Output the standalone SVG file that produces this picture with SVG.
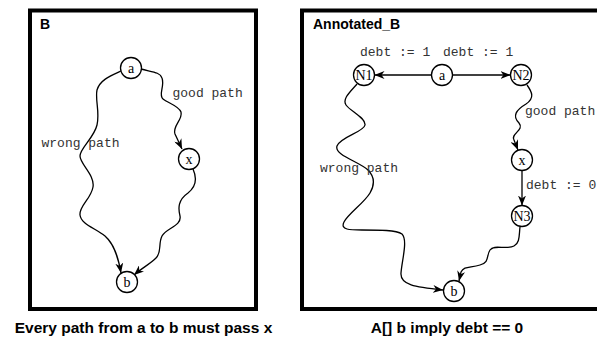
<svg xmlns="http://www.w3.org/2000/svg" width="597" height="340" viewBox="0 0 597 340">
<style>
.frame{fill:none;stroke:#000;stroke-width:4}
.node circle{fill:#fff;stroke:#000;stroke-width:1.3}
.node text{font-family:"Liberation Serif","Times New Roman",serif;font-size:14px;text-anchor:middle;fill:#000}
.edge{fill:none;stroke:#000;stroke-width:1.3;marker-end:url(#arr)}
.lbl{font-family:"Liberation Mono","Courier New",monospace;font-size:13px;fill:#333}
.ttl{font-family:"Liberation Sans",Arial,sans-serif;font-weight:bold;font-size:14px;fill:#000}
.cap{font-family:"Liberation Sans",Arial,sans-serif;font-weight:bold;font-size:15.5px;fill:#000;text-anchor:middle}
</style>
<defs>
<marker id="arr" viewBox="0 0 10 8" refX="10" refY="4" markerWidth="10" markerHeight="8" markerUnits="userSpaceOnUse" orient="auto">
<path d="M0,0 L10,4 L0,8 L3,4 Z" fill="#000"/>
</marker>
</defs>
<g id="panel-B">
<rect class="frame" x="30" y="10.5" width="226" height="298.5"/>
<text class="ttl" x="40" y="29">B</text>
</g>
<g id="panel-Annotated_B">
<rect class="frame" x="302" y="10.5" width="300" height="298.5"/>
<text class="ttl" x="313" y="29">Annotated_B</text>
</g>
<g id="connectors">
<path class="edge" d="M141,69 C152,72 160,72 162,78 C165,86 158,95 163,99 C168,103 179,106 181,112 C183,120 172,126 175,134 L182,149"/>
<path class="edge" d="M121,71 C110,76 100,80 97,90 C95,100 100,112 97,125 C94,138 80,148 80,156 C80,164 95,175 93,187 C91,199 79,206 80,215 C81,224 95,228 105,236 C114,244 118,256 121,273"/>
<path class="edge" d="M193,169 C197,178 197,186 188,193 C178,200 178,208 180,216 C182,226 166,228 162,236 C158,244 162,252 156,258 C150,264 142,268 134,275"/>
<path class="edge" d="M431.5,75 L374.5,75"/>
<path class="edge" d="M452.5,75 L510.5,75"/>
<path class="edge" d="M527,85 C532,92 535,98 526,104 C516,110 512,116 519,123 C525,130 510,134 514,140 L518,150"/>
<path class="edge" d="M522,170.5 L522,205.5"/>
<path class="edge" d="M520,227 C519,235 520,243 514,246 C506,250 494,244 490,250 C486,256 490,262 480,265 C470,268 464,266 461,272 L459,281"/>
<path class="edge" d="M357,84 C350,92 342,99 346,105 C350,111 366,118 365,125 C364,132 340,137 337,146 C334,155 360,162 368,170 C376,178 374,186 370,193 C364,203 348,214 344,222 C340,230 350,230 362,230 C380,230 396,230 402,234 C408,240 402,260 401,273 C400,285 415,287 443,290"/>
<text class="lbl" x="172.5" y="97">good path</text>
<text class="lbl" x="41.5" y="147">wrong path</text>
<text class="lbl" x="360" y="56">debt := 1</text>
<text class="lbl" x="443" y="56">debt := 1</text>
<text class="lbl" x="525" y="115">good path</text>
<text class="lbl" x="526" y="189">debt := 0</text>
<text class="lbl" x="320" y="172">wrong path</text>
</g>
<g id="node-B-a" class="node"><circle cx="131" cy="68" r="10.5"/><text x="131" y="72.5">a</text></g>
<g id="node-B-x" class="node"><circle cx="189" cy="159" r="10.5"/><text x="189" y="163.5">x</text></g>
<g id="node-B-b" class="node"><circle cx="127" cy="282" r="10.5"/><text x="127" y="286.5">b</text></g>
<g id="node-A-N1" class="node"><circle cx="364" cy="75" r="10.5"/><text x="364" y="80">N1</text></g>
<g id="node-A-a" class="node"><circle cx="442" cy="75" r="10.5"/><text x="442" y="79.5">a</text></g>
<g id="node-A-N2" class="node"><circle cx="521" cy="75" r="10.5"/><text x="521" y="80">N2</text></g>
<g id="node-A-x" class="node"><circle cx="522" cy="160" r="10.5"/><text x="522" y="164.5">x</text></g>
<g id="node-A-N3" class="node"><circle cx="522" cy="216" r="10.5"/><text x="522" y="221">N3</text></g>
<g id="node-A-b" class="node"><circle cx="454" cy="291" r="10.5"/><text x="454" y="295.5">b</text></g>
<text class="cap" x="143.5" y="333">Every path from a to b must pass x</text>
<text class="cap" x="447" y="333">A[] b imply debt == 0</text>
</svg>
